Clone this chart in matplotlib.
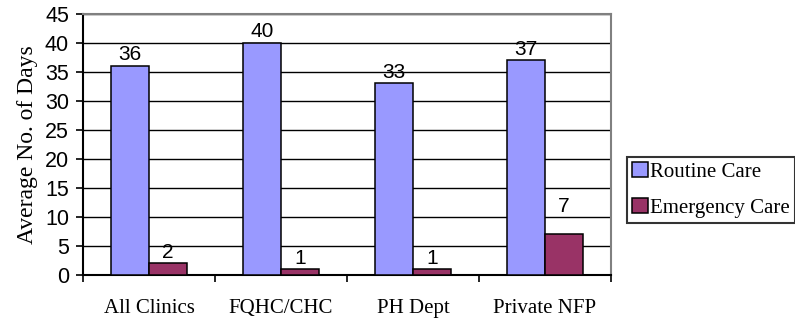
import numpy as np
import matplotlib.pyplot as plt

clinics = ['All Clinics', 'FQHC/CHC', 'PH Dept', 'Private NFP']
routine_care = [36, 40, 33, 37]
emergency_care = [2, 1, 1, 7]

blue = '#9999FF'
plum = '#993366'
sans = 'Liberation Sans'
serif = 'Liberation Serif'

fig = plt.figure(figsize=(7.95, 3.22), dpi=100)
ax = fig.add_axes([83 / 795, 47 / 322, 528 / 795, 261.5 / 322])

x = np.arange(len(clinics))
w = 0.29
b1 = ax.bar(x - w / 2, routine_care, w, color=blue, edgecolor='black', linewidth=1.1,
            label='Routine Care', zorder=3)
b2 = ax.bar(x + w / 2, emergency_care, w, color=plum, edgecolor='black', linewidth=1.1,
            label='Emergency Care', zorder=3)

# value labels; the last emergency label sits a bit higher
for rect, v in zip(b1, routine_care):
    ax.annotate(str(v), (rect.get_x() + rect.get_width() / 2, v), xytext=(0, 1),
                textcoords='offset points', ha='center', va='bottom',
                fontsize=15, family=sans)
for i, (rect, v) in enumerate(zip(b2, emergency_care)):
    dy = 13 if i == len(emergency_care) - 1 else 1
    ax.annotate(str(v), (rect.get_x() + rect.get_width() / 2, v), xytext=(0, dy),
                textcoords='offset points', ha='center', va='bottom',
                fontsize=15, family=sans)

ax.set_xlim(-0.5, len(clinics) - 0.5)
ax.set_ylim(0, 45)
ax.set_yticks(np.arange(0, 46, 5))
ax.yaxis.grid(True, color='black', linewidth=1.0, zorder=0)
ax.set_axisbelow(True)

# ticks at category boundaries, labels at centers
ax.set_xticks(np.arange(-0.5, len(clinics), 1.0))
ax.set_xticklabels([])
ax.set_xticks(x, minor=True)
ax.set_xticklabels(clinics, minor=True, fontsize=15, family=serif)
ax.tick_params(axis='x', which='major', direction='out', length=5, width=1.2)
ax.tick_params(axis='x', which='minor', length=0, pad=17)
ax.tick_params(axis='y', direction='out', length=5, width=1.2, pad=5)
for lab in ax.get_yticklabels():
    lab.set_fontfamily(sans)
    lab.set_fontsize(15.5)

for side in ['left', 'bottom']:
    ax.spines[side].set_color('black')
    ax.spines[side].set_linewidth(1.5)
for side in ['top', 'right']:
    ax.spines[side].set_color('#808080')
    ax.spines[side].set_linewidth(1.5)

ax.set_ylabel('Average No. of Days', fontsize=17, family=serif, labelpad=5)

leg = fig.legend(handles=[b1, b2], loc='upper left', bbox_to_anchor=(627 / 795, 1 - 157 / 322),
                 prop={'family': serif, 'size': 15}, frameon=True, fancybox=False,
                 edgecolor='black', handlelength=0.75, handleheight=0.75,
                 handletextpad=0.12, borderpad=0.25, labelspacing=0.75, borderaxespad=0)
leg.get_frame().set_linewidth(1.5)

fig.savefig('out.png', dpi=100)
